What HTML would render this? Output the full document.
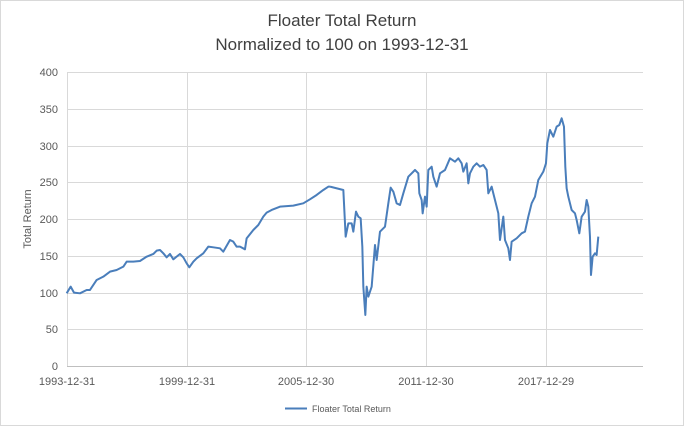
<!DOCTYPE html>
<html><head><meta charset="utf-8"><style>
body{margin:0;background:#fff;font-family:"Liberation Sans",sans-serif;}
</style></head><body>
<svg width="685" height="427" xmlns="http://www.w3.org/2000/svg" font-family="Liberation Sans, sans-serif">
<rect x="0.5" y="0.5" width="683" height="425" fill="#fff" stroke="#d9d9d9"/>
<text x="342" y="26" font-size="17" text-anchor="middle" fill="#404040">Floater Total Return</text>
<text x="342" y="50" font-size="17" text-anchor="middle" fill="#404040">Normalized to 100 on 1993-12-31</text>
<g stroke="#d9d9d9" stroke-width="1">
<line x1="67" x2="643" y1="72.5" y2="72.5"/><line x1="67" x2="643" y1="109.5" y2="109.5"/>
<line x1="67" x2="643" y1="146.5" y2="146.5"/><line x1="67" x2="643" y1="182.5" y2="182.5"/>
<line x1="67" x2="643" y1="219.5" y2="219.5"/><line x1="67" x2="643" y1="256.5" y2="256.5"/>
<line x1="67" x2="643" y1="293.5" y2="293.5"/><line x1="67" x2="643" y1="329.5" y2="329.5"/>
<line x1="187.5" x2="187.5" y1="72" y2="366"/><line x1="306.5" x2="306.5" y1="72" y2="366"/>
<line x1="426.5" x2="426.5" y1="72" y2="366"/><line x1="546.5" x2="546.5" y1="72" y2="366"/>
<line x1="67.5" x2="67.5" y1="72" y2="366"/>
</g>
<line x1="67" x2="643" y1="366.5" y2="366.5" stroke="#bfbfbf"/>
<g font-size="11" fill="#595959" text-anchor="end">
<text x="58" y="76">400</text><text x="58" y="113">350</text><text x="58" y="150">300</text>
<text x="58" y="186">250</text><text x="58" y="223">200</text><text x="58" y="260">150</text>
<text x="58" y="297">100</text><text x="58" y="333">50</text><text x="58" y="370">0</text>
</g>
<g font-size="11" fill="#595959" text-anchor="middle">
<text x="67" y="385">1993-12-31</text><text x="187" y="385">1999-12-31</text>
<text x="306" y="385">2005-12-30</text><text x="426" y="385">2011-12-30</text><text x="546" y="385">2017-12-29</text>
</g>
<text transform="translate(31,219) rotate(-90)" font-size="11" fill="#595959" text-anchor="middle">Total Return</text>
<g fill="none" stroke="#4a7ebb" stroke-width="2" stroke-linejoin="round">
<polyline vector-effect="non-scaling-stroke" transform="translate(0,60) scale(0.3333)" points="200,700 212,680 222,698 240,700 260,690 270,690 290,660 310,650 330,635 350,630 370,620 380,605 400,605 420,603 440,590 460,582 470,572 480,570 490,580 500,592 510,582 520,598 530,590 540,582 550,592 560,610 568,622 580,605 590,595 610,580 625,560 640,562 660,565 670,575 690,540 700,545 710,560 720,560 735,568 740,535 760,510 775,495 790,470 800,458 815,450 840,440 880,437 910,430 930,418 950,405 970,390 985,380 990,380"/>
<polyline vector-effect="non-scaling-stroke" transform="translate(330,60) scale(0.3333)" points="0,380 40,390 47,530 55,490 65,490 70,515 78,455 85,470 92,475 97,560 100,680 106,765 110,680 115,710 125,680 135,555 140,600 150,515 165,500 175,430 182,383 190,395 200,430 210,435 220,400 235,350 255,330 265,340 268,400 275,420 278,460 285,410 290,440 295,330 305,320 310,350 320,380 330,340 345,330 360,295 375,305 385,295 395,310 400,335 410,310 415,370 420,340 430,320 440,310 450,320 460,315 470,330 475,400 485,380 490,400 500,440 505,460 510,540 520,470 525,540 535,565 540,600 545,545 560,535 575,520 585,515 595,470 605,430 615,410 625,360 640,335 648,310 652,250 660,210 670,230 680,200 688,195 695,175 702,200 706,320 710,385 715,410 725,450 735,460 740,480 748,520 755,470 765,455 770,420 775,440 780,530 783,645 788,590 795,580 800,585 805,530"/>
</g>
<line x1="285" x2="307" y1="408.5" y2="408.5" stroke="#4a7ebb" stroke-width="2"/>
<text x="312" y="412" font-size="9" fill="#595959">Floater Total Return</text>
</svg>
</body></html>
